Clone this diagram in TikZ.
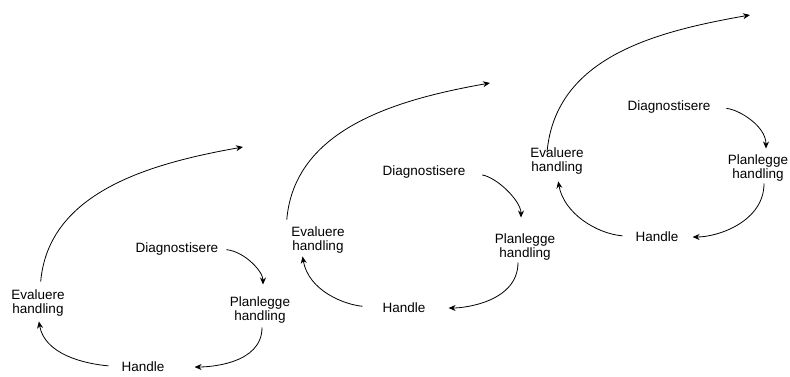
\documentclass[tikz,border=0pt]{standalone}
\usepackage{fontspec}
\setmainfont{Liberation Sans}
\usetikzlibrary{arrows.meta}
\tikzset{
  lbl/.style={inner sep=0pt, align=center, font=\fontsize{13.5}{14}\selectfont},
  arr/.style={-{Stealth[length=7pt, width=6pt]}, line width=0.8pt, draw=black},
}
\begin{document}
\begin{tikzpicture}[x=1pt, y=1pt]
  \useasboundingbox (0,0) rectangle (790,376);
  \node[lbl] (diag1) at (177,127) {Diagnostisere};
  \node[lbl] (plan1) at (260,66) {Planlegge\\handling};
  \node[lbl] (handle1) at (143,9) {Handle};
  \node[lbl] (eval1) at (38,73) {Evaluere\\handling};
  \coordinate (top1) at (243,229);
  \node[lbl] (diag2) at (424,204) {Diagnostisere};
  \node[lbl] (plan2) at (525,129) {Planlegge\\handling};
  \node[lbl] (handle2) at (404,68) {Handle};
  \node[lbl] (eval2) at (318,136) {Evaluere\\handling};
  \coordinate (top2) at (490,293);
  \node[lbl] (diag3) at (669,269) {Diagnostisere};
  \node[lbl] (plan3) at (758,208) {Planlegge\\handling};
  \node[lbl] (handle3) at (657,139) {Handle};
  \node[lbl] (eval3) at (557,215) {Evaluere\\handling};
  \coordinate (top3) at (750,361);
  \draw[arr, shorten <=8pt, shorten >=12pt] (diag1.east) to[out=-5, in=90] ([xshift=3pt]plan1.north);
  \draw[arr, shorten <=4pt, shorten >=30pt] ([xshift=2pt]plan1.south) to[out=-90, in=0] (handle1.east);
  \draw[arr, shorten <=13pt, shorten >=5pt] (handle1.west) to[out=175, in=-80] (eval1.south);
  \draw[arr, shorten <=8pt] ([xshift=2pt]eval1.north) to[out=85, in=190] (top1);
  \draw[arr, shorten <=17pt, shorten >=16pt] (diag2.east) to[out=-10, in=90] ([xshift=-4pt]plan2.north);
  \draw[arr, shorten <=2pt, shorten >=23pt] ([xshift=-7pt]plan2.south) to[out=-90, in=0] (handle2.east);
  \draw[arr, shorten <=20pt, shorten >=3pt] (handle2.west) to[out=175, in=-80] ([xshift=-16pt]eval2.south);
  \draw[arr, shorten <=7pt] ([xshift=-5pt]eval2.north west) to[out=85, in=190] (top2);
  \draw[arr, shorten <=16pt, shorten >=6pt] (diag3.east) to[out=-5, in=90] ([xshift=8pt]plan3.north);
  \draw[arr, shorten <=2pt, shorten >=14pt] ([xshift=6pt]plan3.south) to[out=-90, in=0] (handle3.east);
  \draw[arr, shorten <=13pt, shorten >=7pt] (handle3.west) to[out=175, in=-80] (eval3.south);
  \draw[arr] ([xshift=-10pt, yshift=-5pt]eval3.north) to[out=85, in=190] (top3);
\end{tikzpicture}
\end{document}
